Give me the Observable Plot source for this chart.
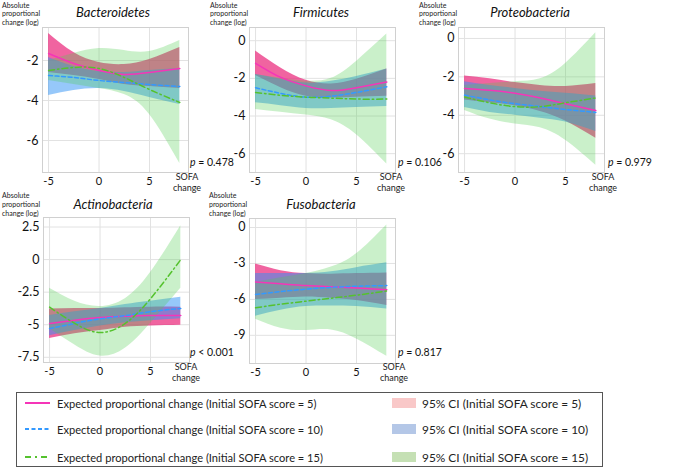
<!DOCTYPE html>
<html>
<head>
<meta charset="utf-8">
<script src="https://cdn.jsdelivr.net/npm/d3@7"></script>
<script src="https://cdn.jsdelivr.net/npm/@observablehq/plot@0.6"></script>
<style>
  html, body { margin: 0; padding: 0; background: #fff; }
  #chart { position: relative; width: 676px; height: 468px; font-family: Lato, "Open Sans", sans-serif; color: #111; overflow: hidden; }
  .abs { position: absolute; white-space: nowrap; }
  .title { font-style: italic; font-size: 13px; transform: translate(-50%, -50%); }
  .ylab { font-size: 7px; line-height: 8.8px; color: #222; }
  .sofa { font-size: 9px; line-height: 11px; text-align: center; transform: translateX(-50%); color: #222; }
  .pval { font-size: 10.5px; transform: translateY(-50%); }
  #legend { position: absolute; left: 16px; top: 392px; width: 587px; height: 75px; border: 1px solid #555; box-sizing: border-box; }
  .lg { position: absolute; white-space: nowrap; transform: translateY(-50%); color: #222; }
  .lg1 { font-size: 11.1px; }
  .lg2 { font-size: 11.9px; }
</style>
</head>
<body>
<div id="chart"></div>
<script>
// ---- data ----
const sofaChange = [-5, -2.5, 0, 2.5, 5, 8];
const phyla = ["Bacteroidetes", "Firmicutes", "Proteobacteria", "Actinobacteria", "Fusobacteria"];
const pLabels = ["= 0.478", "= 0.106", "= 0.979", "< 0.001", "= 0.817"];
const xTicks = [-5, 0, 5];
const yTicks = [[-2, -4, -6], [0, -2, -4, -6], [0, -2, -4, -6], [2.5, 0, -2.5, -5, -7.5], [0, -3, -6, -9]];
const yDomains = [[-7.6, -0.35], [-7.0, 0.7], [-6.98, 0.57], [-7.9, 3.23], [-11.35, 0.75]];

// expected proportional change, initial SOFA = 5
const fit5 = [
  [-1.65, -2.15, -2.5, -2.7, -2.6, -2.4],
  [-1.2, -1.95, -2.4, -2.65, -2.5, -2.2],
  [-2.6, -2.7, -2.85, -3.1, -3.4, -3.75],
  [-4.9, -4.65, -4.45, -4.35, -4.3, -4.3],
  [-4.55, -4.7, -4.85, -4.95, -5.05, -5.2]
];
const lo5 = [
  [-2.6, -2.75, -2.95, -3.2, -3.3, -3.4],
  [-1.85, -2.5, -2.95, -3.05, -3.0, -2.95],
  [-3.2, -3.35, -3.5, -3.8, -4.3, -5.2],
  [-6.05, -5.7, -5.45, -5.2, -5.1, -5.05],
  [-6.0, -5.9, -5.8, -5.9, -6.1, -6.5]
];
const hi5 = [
  [-0.65, -1.6, -2.1, -2.2, -1.95, -1.35],
  [-0.55, -1.45, -2.1, -2.3, -2.05, -1.5],
  [-1.95, -2.1, -2.3, -2.45, -2.5, -2.35],
  [-3.8, -3.75, -3.75, -3.7, -3.65, -3.65],
  [-3.05, -3.6, -3.85, -3.9, -3.85, -3.8]
];
// initial SOFA = 10
const fit10 = [
  [-2.75, -2.85, -3.0, -3.1, -3.2, -3.3],
  [-2.5, -2.8, -3.0, -2.95, -2.75, -2.45],
  [-2.95, -3.2, -3.4, -3.55, -3.7, -3.85],
  [-5.3, -4.9, -4.55, -4.3, -4.0, -3.75],
  [-5.6, -5.35, -5.15, -5.0, -4.9, -4.85]
];
const lo10 = [
  [-3.75, -3.5, -3.4, -3.55, -3.85, -4.2],
  [-3.3, -3.45, -3.6, -3.6, -3.55, -3.5],
  [-3.6, -3.85, -4.0, -4.15, -4.35, -4.85],
  [-5.85, -5.45, -5.1, -4.85, -4.7, -4.55],
  [-7.4, -6.9, -6.6, -6.55, -6.6, -6.8]
];
const hi10 = [
  [-1.85, -2.3, -2.55, -2.6, -2.5, -2.4],
  [-1.8, -2.05, -2.25, -2.15, -1.9, -1.5],
  [-2.25, -2.45, -2.6, -2.75, -2.85, -3.0],
  [-4.3, -4.0, -3.75, -3.45, -3.2, -2.9],
  [-3.85, -3.85, -3.85, -3.7, -3.35, -2.95]
];
// initial SOFA = 15
const fit15 = [
  [-2.5, -2.35, -2.4, -2.85, -3.45, -4.1],
  [-2.75, -2.9, -3.0, -3.05, -3.1, -3.1],
  [-3.05, -3.35, -3.55, -3.55, -3.35, -3.1],
  [-3.65, -4.9, -5.6, -4.9, -3.0, 0.0],
  [-6.7, -6.4, -6.15, -5.9, -5.65, -5.3]
];
const lo15 = [
  [-3.0, -3.2, -3.4, -3.7, -4.7, -7.15],
  [-3.65, -3.8, -3.95, -4.2, -5.0, -6.55],
  [-3.75, -4.2, -4.45, -4.65, -5.3, -6.6],
  [-5.3, -6.55, -7.4, -6.8, -4.9, -2.2],
  [-7.65, -8.4, -8.6, -8.55, -9.3, -10.75]
];
const hi15 = [
  [-2.0, -1.65, -1.4, -1.5, -1.55, -1.0],
  [-1.8, -2.0, -2.15, -2.0, -1.1, 0.35],
  [-2.45, -2.35, -2.25, -2.1, -1.3, 0.3],
  [-2.2, -3.2, -3.6, -3.0, -1.0, 2.6],
  [-4.6, -4.2, -3.85, -3.3, -2.2, 0.2]
];
const legendLabels = [
  "Expected proportional change (Initial SOFA score = 5)",
  "Expected proportional change (Initial SOFA score = 10)",
  "Expected proportional change (Initial SOFA score = 15)"
];
const ciLabels = [
  "95% CI (Initial SOFA score = 5)",
  "95% CI (Initial SOFA score = 10)",
  "95% CI (Initial SOFA score = 15)"
];

// ---- layout / style ----
const frames = [[42, 27], [249, 27], [458, 27], [43, 217], [249, 218]];
const FW = 146, FH = 145, ML = 36, MR = 4, MT = 4, MB = 22;
const lineColors = ["#f535b8", "#3399ff", "#55c22e"];
const lineDash = [null, "4,2.5", "6,3,1.5,3"];
const bandFill = ["#e92277", "#2d91f5", "#51cd51"];
const bandOpacity = [0.7, 0.5, 0.3];
const swatch = ["#f9c8c8", "#b4c7e7", "#c5e0b4"];

const chart = document.getElementById("chart");
const fmt = d => String(d);

phyla.forEach((name, i) => {
  const rows = sofaChange.map((x, j) => ({
    x,
    fit5: fit5[i][j], lo5: lo5[i][j], hi5: hi5[i][j],
    fit10: fit10[i][j], lo10: lo10[i][j], hi10: hi10[i][j],
    fit15: fit15[i][j], lo15: lo15[i][j], hi15: hi15[i][j]
  }));
  const keys = ["5", "10", "15"];
  const svg = Plot.plot({
    width: FW + ML + MR,
    height: FH + MT + MB,
    marginLeft: ML, marginRight: MR, marginTop: MT, marginBottom: MB,
    style: { fontFamily: "Lato, sans-serif", background: "transparent", color: "#111", overflow: "visible" },
    x: { domain: [-5.6, 8.86] },
    y: { domain: yDomains[i] },
    marks: [
      Plot.gridX(xTicks, { stroke: "#e2e2e2", strokeOpacity: 1 }),
      Plot.gridY(yTicks[i], { stroke: "#e2e2e2", strokeOpacity: 1 }),
      ...keys.map((k, c) => Plot.areaY(rows, {
        x: "x", y1: "lo" + k, y2: "hi" + k, curve: "natural",
        fill: bandFill[c], fillOpacity: bandOpacity[c]
      })),
      ...keys.map((k, c) => Plot.lineY(rows, {
        x: "x", y: "fit" + k, curve: "natural",
        stroke: lineColors[c], strokeWidth: 1.5, strokeDasharray: lineDash[c]
      })),
      Plot.frame({ stroke: "#d0d0d0" }),
      Plot.axisX({ ticks: xTicks, tickSize: 0, tickPadding: 5, fontSize: 11, tickFormat: fmt, label: null }),
      Plot.axisY({ ticks: yTicks[i], tickSize: 0, tickPadding: 4, fontSize: 12.5, tickFormat: fmt, label: null })
    ]
  });
  svg.style.position = "absolute";
  svg.style.left = (frames[i][0] - ML) + "px";
  svg.style.top = (frames[i][1] - MT) + "px";
  chart.appendChild(svg);
});

// ---- text annotations ----
function addDiv(cls, html, left, top) {
  const d = document.createElement("div");
  d.className = "abs " + cls;
  d.innerHTML = html;
  d.style.left = left + "px";
  d.style.top = top + "px";
  chart.appendChild(d);
  return d;
}
const titlePos = [[113, 12], [321, 12], [530, 12], [113, 204], [321, 204]];
const ylabPos = [[2, 0.6], [210, 0.6], [419, 0.6], [2, 191.3], [209, 191.3]];
const sofaPos = [[187, 171], [391, 171], [603, 171], [186, 361], [394, 361]];
const pPos = [[190, 162], [398, 162], [608, 162], [190, 352], [398, 352]];
phyla.forEach((name, i) => {
  addDiv("title", name, titlePos[i][0], titlePos[i][1]);
  addDiv("ylab", "Absolute<br>proportional<br>change (log)", ylabPos[i][0], ylabPos[i][1]);
  addDiv("sofa", "SOFA<br>change", sofaPos[i][0], sofaPos[i][1]);
  addDiv("pval", "<i>p</i> " + pLabels[i], pPos[i][0], pPos[i][1]);
});

// ---- legend ----
const legend = document.createElement("div");
legend.id = "legend";
chart.appendChild(legend);
const rowY = [10, 35.5, 64];
const ns = "http://www.w3.org/2000/svg";
rowY.forEach((y, r) => {
  const s = document.createElementNS(ns, "svg");
  s.setAttribute("width", 30); s.setAttribute("height", 6);
  s.style.position = "absolute"; s.style.left = "8px"; s.style.top = (y - 3) + "px";
  const ln = document.createElementNS(ns, "line");
  ln.setAttribute("x1", 0); ln.setAttribute("x2", 25); ln.setAttribute("y1", 3); ln.setAttribute("y2", 3);
  ln.setAttribute("stroke", lineColors[r]); ln.setAttribute("stroke-width", 2);
  if (lineDash[r]) ln.setAttribute("stroke-dasharray", r === 1 ? "4,2.5" : "6,4,2,4");
  s.appendChild(ln);
  legend.appendChild(s);

  const t = document.createElement("div");
  t.className = "lg lg1"; t.textContent = legendLabels[r];
  t.style.left = "40px"; t.style.top = y + "px";
  legend.appendChild(t);

  const sw = document.createElement("div");
  sw.style.cssText = `position:absolute;left:375px;top:${y - 5}px;width:24px;height:10px;background:${swatch[r]}`;
  legend.appendChild(sw);

  const t2 = document.createElement("div");
  t2.className = "lg lg2"; t2.textContent = ciLabels[r];
  t2.style.left = "405px"; t2.style.top = y + "px";
  legend.appendChild(t2);
});
</script>
</body>
</html>
